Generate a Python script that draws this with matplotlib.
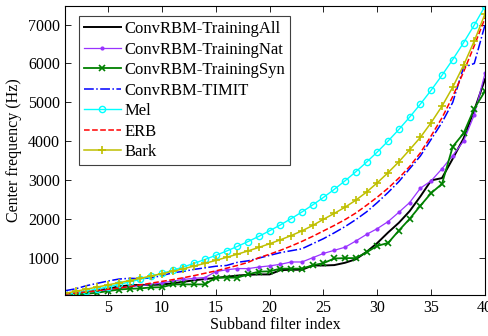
import numpy as np
import matplotlib
matplotlib.use('Agg')
import matplotlib.pyplot as plt

plt.rcParams['font.family'] = ['Liberation Serif', 'DejaVu Serif']
plt.rcParams['mathtext.fontset'] = 'stix'

# subband filter index 1..40
filter_index = list(range(1, 41))

training_all = [40, 80, 120, 160, 200, 260, 290, 300, 300, 310,
                340, 380, 420, 450, 480, 510, 540, 560, 570, 570,
                680, 690, 690, 800, 800, 810, 870, 960, 1150, 1380,
                1650, 1900, 2200, 2580, 2990, 3050, 3550, 4070, 4800, 5600]

training_nat = [60, 80, 110, 140, 170, 210, 250, 280, 310, 350,
                400, 440, 470, 490, 640, 690, 720, 720, 760, 790,
                830, 890, 890, 1000, 1110, 1190, 1270, 1430, 1600, 1750,
                1930, 2170, 2420, 2790, 2980, 3290, 3630, 4000, 4680, 5750]

training_syn = [50, 50, 70, 100, 140, 180, 200, 210, 236, 240,
                313, 313, 313, 313, 487, 487, 487, 572, 640, 650,
                719, 719, 719, 805, 860, 980, 990, 990, 1140, 1305,
                1380, 1700, 2000, 2340, 2665, 2900, 3860, 4200, 4840, 5290]

timit = [150, 200, 280, 340, 400, 450, 470, 460, 480, 540,
         610, 650, 700, 740, 780, 800, 880, 920, 990, 1060,
         1130, 1180, 1230, 1360, 1490, 1640, 1800, 1980, 2180, 2420,
         2680, 2960, 3290, 3620, 4050, 4480, 5000, 5900, 6000, 7000]

mel = [44, 92, 142, 195, 252, 312, 376, 445, 517, 594,
       676, 763, 856, 955, 1060, 1171, 1290, 1416, 1550, 1693,
       1844, 2006, 2177, 2359, 2553, 2759, 2979, 3212, 3460, 3723,
       4004, 4302, 4619, 4956, 5314, 5696, 6101, 6532, 6990, 7478]

erb = [60, 90, 120, 150, 185, 220, 260, 300, 345, 390,
       435, 485, 540, 600, 660, 730, 800, 880, 1000, 1090,
       1190, 1300, 1420, 1550, 1690, 1830, 1980, 2150, 2350, 2560,
       2790, 3050, 3350, 3700, 4140, 4600, 5150, 5780, 6460, 7170]

bark = [80, 135, 190, 245, 300, 355, 410, 470, 530, 590,
        650, 715, 785, 855, 930, 1010, 1090, 1175, 1265, 1360,
        1460, 1570, 1690, 1830, 1990, 2140, 2300, 2480, 2690, 2930,
        3190, 3470, 3780, 4100, 4480, 4900, 5390, 5950, 6580, 7280]

fig = plt.figure(figsize=(4.88, 3.36), dpi=100)
ax = fig.add_axes([0.133, 0.122, 0.861, 0.860])

ax.plot(filter_index, training_all, color='black', lw=1.4, label='ConvRBM-TrainingAll')
ax.plot(filter_index, training_nat, color='#9933FF', lw=0.9, marker='.', ms=4,
        label='ConvRBM-TrainingNat')
ax.plot(filter_index, training_syn, color='#008000', lw=1.3, marker='x', ms=5, mew=1.2,
        label='ConvRBM-TrainingSyn')
ax.plot(filter_index, timit, color='blue', lw=1.1, ls='-.', label='ConvRBM-TIMIT')
ax.plot(filter_index, mel, color='cyan', lw=1.0, marker='o', ms=4.5, mfc='none', mew=1.0,
        label='Mel')
ax.plot(filter_index, erb, color='red', lw=1.1, ls='--', label='ERB')
ax.plot(filter_index, bark, color='#BFBF00', lw=1.1, marker='+', ms=6, mew=1.2,
        label='Bark')

all_vals = training_all + training_nat + training_syn + timit + mel + erb + bark
ax.set_xlim(1, 40)
ax.set_ylim(min(all_vals), max(all_vals))
ax.set_xticks([5, 10, 15, 20, 25, 30, 35, 40])
ax.set_yticks([1000, 2000, 3000, 4000, 5000, 6000, 7000])
ax.tick_params(direction='in', top=True, right=True, labelsize=11.5, length=4, width=0.6)
for s in ax.spines.values():
    s.set_linewidth(0.8)

ax.set_xlabel('Subband filter index', fontsize=11.5, labelpad=1)
ax.set_ylabel('Center frequency (Hz)', fontsize=11.5, labelpad=4)

leg = ax.legend(loc='upper left', fontsize=12, handlelength=2.2, handletextpad=0.2,
                labelspacing=0.27, borderpad=0.3, borderaxespad=0.6, fancybox=False,
                edgecolor='#404040', framealpha=1, bbox_to_anchor=(0.01, 1.0))
leg.get_frame().set_linewidth(0.8)

plt.savefig('out.png', dpi=100)
